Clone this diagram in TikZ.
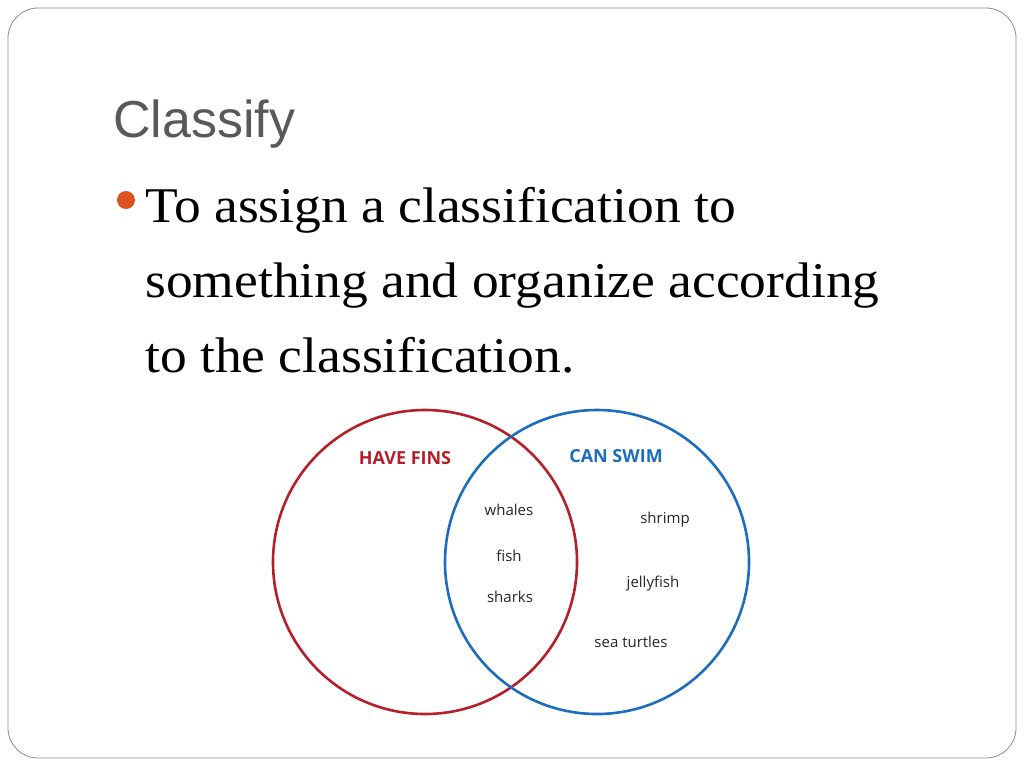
\documentclass[tikz,border=0pt]{standalone}
\usepackage{fontspec}
\setmainfont{Liberation Serif}
\newfontfamily\bodyf[FakeStretch=1.07]{Liberation Serif}
\newfontfamily\titlef{Liberation Sans}
\newfontfamily\osans{Open Sans}
\definecolor{vred}{HTML}{B51F2A}
\definecolor{vblue}{HTML}{1C6DBE}
\definecolor{tgray}{HTML}{595959}
\definecolor{bul}{HTML}{D9541E}
\begin{document}
\begin{tikzpicture}[x=1pt,y=-1pt,
  lbl/.style={font=\osans\fontsize{15}{18}\selectfont, text=black!85},
  hdr/.style={font=\osans\bfseries\fontsize{18}{20}\selectfont},
  body/.style={font=\bodyf\fontsize{50}{75}\selectfont, anchor=base west, inner sep=0pt}]
\useasboundingbox (0,0) rectangle (1024,768);
\draw[black!45, line width=0.8pt, rounded corners=30pt] (8,8) rectangle (1016,758);
\node[anchor=base west, inner sep=0pt, text=tgray, font=\titlef\fontsize{52}{60}\selectfont] (title) at (113,137) {Classify};
\fill[bul] (126,200) circle (9);
\node[body] (l1) at (145,222) {To assign a classification to};
\node[body] (l2) at (145,297) {something and organize according};
\node[body] (l3) at (145,372) {to the classification.};
\node[draw=vred, line width=2.6pt, circle, minimum size=304pt, inner sep=0pt] (fins) at (425,562) {};
\node[draw=vblue, line width=2.6pt, circle, minimum size=304pt, inner sep=0pt] (swim) at (597,562) {};
\node[hdr, text=vred] (hf) at (405,458) {HAVE FINS};
\node[hdr, text=vblue] (cs) at (616,456) {CAN SWIM};
\node[lbl] (wh) at (509,510) {whales};
\node[lbl] (fi) at (509,556) {fish};
\node[lbl] (sh) at (510,597) {sharks};
\node[lbl] (sr) at (665,520) {shrimp};
\node[lbl] (jf) at (653,584) {jellyfish};
\node[lbl] (st) at (631,642) {sea turtles};
\end{tikzpicture}
\end{document}
